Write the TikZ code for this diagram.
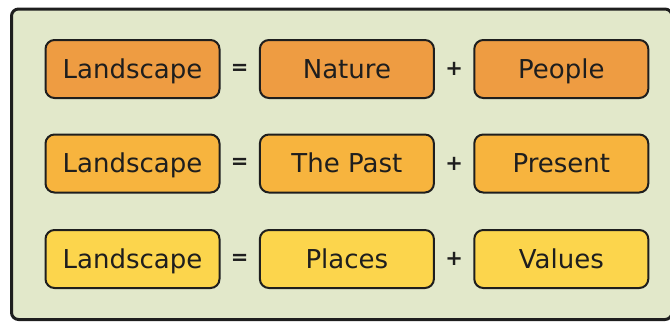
\documentclass[tikz,border=0pt]{standalone}
\usepackage{fontspec}
\setmainfont{DejaVu Sans}
\usetikzlibrary{positioning}
\definecolor{panel}{RGB}{226,232,202}
\definecolor{rowa}{RGB}{238,156,66}
\definecolor{rowb}{RGB}{247,180,62}
\definecolor{rowc}{RGB}{252,213,76}
\definecolor{ink}{RGB}{30,30,30}
\begin{document}
\begin{tikzpicture}[x=1pt, y=-1pt, node distance=0pt,
    term/.style={draw=ink, line width=2pt, rounded corners=9pt,
      minimum width=174pt, minimum height=58pt, inner sep=0pt,
      text height=21pt, text depth=3pt,
      text=ink, font=\fontsize{26}{30}\selectfont},
    sign/.style={minimum width=38pt, inner sep=0pt, text=ink,
      font=\bfseries\fontsize{21}{24}\selectfont}]
    \useasboundingbox (0,0) rectangle (670,322);
    \draw[ink, line width=3pt, fill=panel, rounded corners=7pt] (11.5,9) rectangle (672,319.5);
    \node[term, fill=rowa] (l1) at (132.5,69) {Landscape};
    \node[sign, right=of l1] (eq1) {=};
    \node[term, fill=rowa, right=of eq1] (n1) {Nature};
    \node[sign, right=of n1] (pl1) {+};
    \node[term, fill=rowa, right=of pl1] (p1) {People};
    \node[term, fill=rowb] (l2) at (132.5,163.5) {Landscape};
    \node[sign, right=of l2] (eq2) {=};
    \node[term, fill=rowb, right=of eq2] (n2) {The Past};
    \node[sign, right=of n2] (pl2) {+};
    \node[term, fill=rowb, right=of pl2] (p2) {Present};
    \node[term, fill=rowc] (l3) at (132.5,259) {Landscape};
    \node[sign, right=of l3] (eq3) {=};
    \node[term, fill=rowc, right=of eq3] (n3) {Places};
    \node[sign, right=of n3] (pl3) {+};
    \node[term, fill=rowc, right=of pl3] (p3) {Values};
\end{tikzpicture}
\end{document}
